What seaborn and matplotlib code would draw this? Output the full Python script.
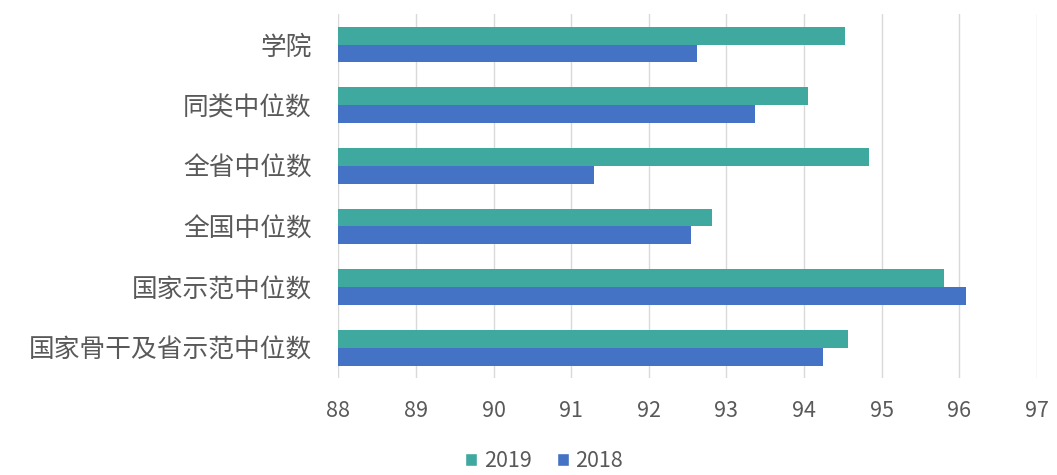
import pandas as pd
import matplotlib.pyplot as plt
import seaborn as sns
from matplotlib.patches import Patch

# Data
categories = ["学院", "同类中位数", "全省中位数", "全国中位数", "国家示范中位数", "国家骨干及省示范中位数"]
values_2019 = [94.53, 94.05, 94.84, 92.81, 95.80, 94.57]
values_2018 = [92.62, 93.37, 91.30, 92.55, 96.09, 94.25]
years = ["2019", "2018"]
colors = {"2019": "#3FA9A0", "2018": "#4472C4"}

df = pd.DataFrame({
    "category": categories * 2,
    "year": ["2019"] * len(categories) + ["2018"] * len(categories),
    "value": values_2019 + values_2018,
})

sns.set_theme(style="white")
plt.rcParams["font.family"] = ["Noto Sans CJK SC", "DejaVu Sans"]

fig = plt.figure(figsize=(10.57, 4.75), dpi=100)
ax = fig.add_axes([0.32, 0.204, 0.661, 0.766])

sns.barplot(data=df, y="category", x="value", hue="year", hue_order=years,
            order=categories, palette=colors, orient="h", width=0.59,
            ax=ax, legend=False, saturation=1, linewidth=0)

ax.set_xlim(88, 97)
ax.set_xticks(range(88, 98))
ax.set_xlabel("")
ax.set_ylabel("")
ax.grid(axis="x", color="#D9D9D9", linewidth=1)
ax.set_axisbelow(True)
for s in ax.spines.values():
    s.set_visible(False)
ax.tick_params(axis="y", length=0, pad=19, labelsize=18.5, labelcolor="#595959")
ax.tick_params(axis="x", length=0, pad=16, labelsize=15.5, labelcolor="#595959")
for lbl in ax.get_yticklabels() + ax.get_xticklabels():
    lbl.set_fontweight("light")

handles = [Patch(facecolor=colors[y], label=y) for y in years]
leg = fig.legend(handles=handles, loc="lower center", bbox_to_anchor=(0.515, -0.035),
                 ncol=2, frameon=False, fontsize=15.5, handlelength=0.55, handleheight=0.55,
                 handletextpad=0.3, columnspacing=1.2, labelcolor="#595959")
for t in leg.get_texts():
    t.set_fontweight("light")

plt.savefig("out.png", dpi=100)
